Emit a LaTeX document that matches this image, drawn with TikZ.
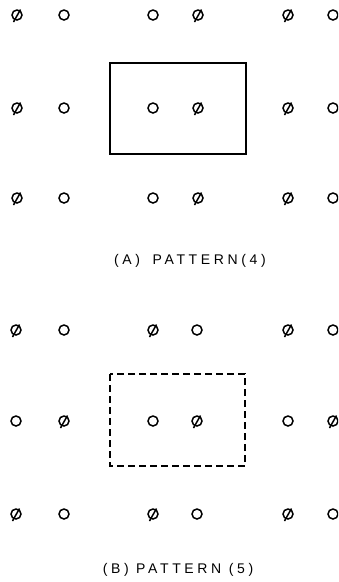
\documentclass[tikz,border=0pt]{standalone}
\usepackage{fontspec}
\usetikzlibrary{calc}
\setmainfont{Liberation Sans}
\newfontfamily\lblfont[LetterSpace=26]{Liberation Sans}
\begin{document}
\begin{tikzpicture}[x=1pt,y=-1pt,
  hole/.style={circle,draw,line width=1.5pt,minimum size=10pt,inner sep=0pt},
  slash/.style={line width=1.5pt},
  frame/.style={line width=2pt},
  lbl/.style={font=\lblfont\fontsize{14}{16}\selectfont,inner sep=0pt}]
\useasboundingbox (0,0) rectangle (338,582);
\clip (0,0) rectangle (338,582);
% panel A
\foreach \r/\y in {1/15,2/108,3/198}{
  \foreach \c/\x in {1/17,2/64,3/153,4/198,5/288,6/333}{
    \node[hole] (a\r\c) at (\x,\y) {};
  }
  \foreach \c in {1,4,5}{
    \draw[slash] ($(a\r\c)+(-3.5,7)$) -- ($(a\r\c)+(3.5,-5.5)$);
  }
}
\draw[frame] (110,63) rectangle (246,154);
\node[lbl] (la) at (190,261) {(A)\hspace{5pt} PATTERN(4)};
% panel B
\foreach \r/\y in {1/330,2/421,3/514}{
  \foreach \c/\x in {1/16,2/64,3/153,4/197,5/288,6/333}{
    \node[hole] (b\r\c) at (\x,\y) {};
  }
}
\foreach \n in {b11,b13,b15,b22,b24,b26,b31,b33,b35}{
  \draw[slash] ($(\n)+(-3.5,7)$) -- ($(\n)+(3.5,-5.5)$);
}
\draw[frame,dash pattern=on 7pt off 4pt] (110,374) rectangle (245,466);
\node[lbl] (lb) at (178,570) {(B) PATTERN (5)};
\end{tikzpicture}
\end{document}
